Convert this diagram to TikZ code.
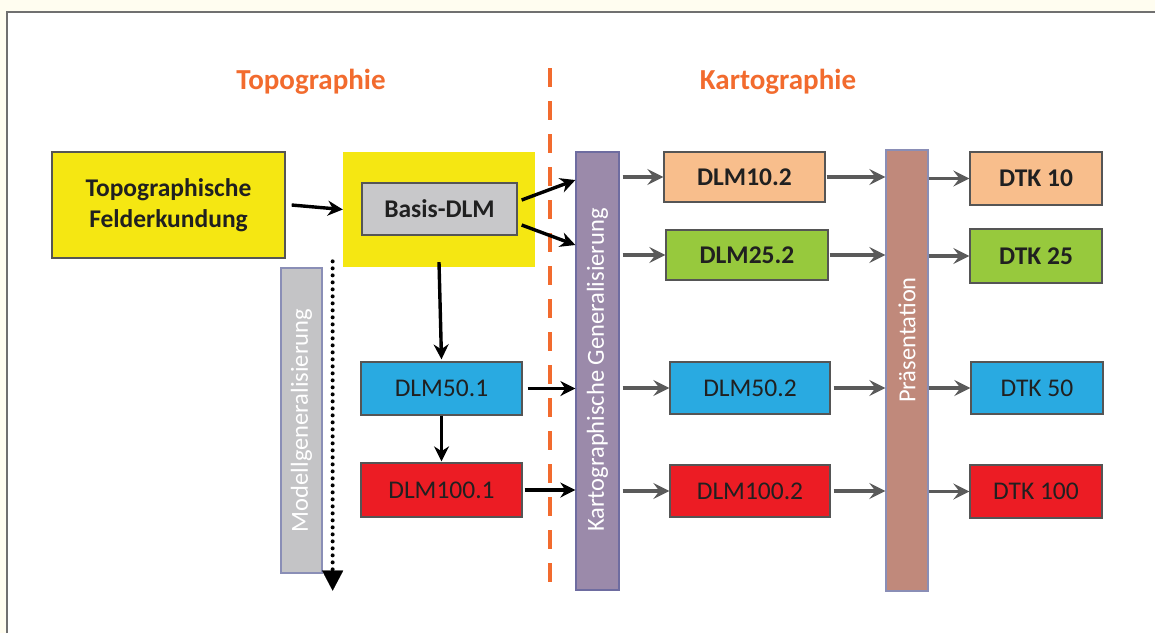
\documentclass[tikz,border=0pt]{standalone}
\usepackage{fontspec}
\setmainfont{Carlito}
\usetikzlibrary{arrows.meta,calc}
\definecolor{cream}{HTML}{FFFDF0}
\definecolor{framec}{HTML}{707070}
\definecolor{yel}{HTML}{F5E712}
\definecolor{boxgray}{HTML}{C8C8CA}
\definecolor{bargray}{HTML}{C4C4C6}
\definecolor{barborder}{HTML}{8A8EB6}
\definecolor{purp}{HTML}{9B8AAA}
\definecolor{purpb}{HTML}{6E6CA0}
\definecolor{brn}{HTML}{C0897B}
\definecolor{peach}{HTML}{F8BE8C}
\definecolor{grn}{HTML}{97C93D}
\definecolor{blu}{HTML}{29AAE1}
\definecolor{rd}{HTML}{EC1C24}
\definecolor{orng}{HTML}{F26B2E}
\definecolor{boxborder}{HTML}{555555}
\definecolor{txt}{HTML}{202020}
\definecolor{garr}{HTML}{5A5A5A}
\tikzset{
  box/.style={draw=boxborder, line width=1.3pt, text=txt, inner sep=0pt, align=center,
    font=\fontsize{25.5}{31}\selectfont},
  bbox/.style={box, font=\fontsize{25.5}{31}\selectfont\bfseries},
  bar/.style={draw=barborder, line width=1.3pt, inner sep=0pt},
  bartext/.style={text=white, font=\fontsize{24.5}{28}\selectfont, rotate=90},
  barr/.style={line width=3.4pt, -{Stealth[length=15pt,width=15pt]}, black},
  garrow/.style={line width=3.6pt, garr, -{Stealth[length=16pt,width=16pt,inset=6pt]}},
  titletext/.style={text=orng, font=\fontsize{29}{32}\selectfont\bfseries},
}
\begin{document}
\begin{tikzpicture}[x=1pt,y=-1pt]
\useasboundingbox (0,0) rectangle (1155,633);
\fill[cream] (0,0) rectangle (1155,633);
\fill[white] (7,12) rectangle (1155,633);
\draw[framec, line width=1.5pt] (7,633) -- (7,12) -- (1155,12);

% titles
\node[titletext] (topo) at (311,82) {Topographie};
\node[titletext] (karto) at (778,82) {Kartographie};

% dashed separator
\coordinate (dtop) at (550,68);
\coordinate (dbot) at (550,595);
\draw[orng, line width=3.5pt, dash pattern=on 19pt off 14pt] (dtop) -- (dbot);

% left part
\node[bbox, fill=yel, minimum width=233pt, minimum height=106pt] (tf) at (168.5,205) {Topographische\\Felderkundung};
\node[fill=yel, minimum width=192pt, minimum height=115pt, inner sep=0pt] (ybg) at (439,209.5) {};
\node[bbox, fill=boxgray, minimum width=155pt, minimum height=52pt] (basis) at (439.5,209) {Basis-DLM};
\node[bar, fill=bargray, minimum width=41pt, minimum height=305pt] (modell) at (301.5,420.5) {};
\node[bartext] (modellt) at (modell) {Modellgeneralisierung};
\node[box, fill=blu, minimum width=161pt, minimum height=53pt] (dlm501) at (441.5,388.5) {DLM50.1};
\node[box, fill=rd, minimum width=161pt, minimum height=54pt] (dlm1001) at (441.5,490) {DLM100.1};

% bars
\node[bar, draw=purpb, fill=purp, minimum width=43pt, minimum height=438pt] (kg) at (597.5,371) {};
\node[bartext] (kgt) at (597.5,370) {Kartographische Generalisierung};
\node[bar, fill=brn, minimum width=42pt, minimum height=441pt] (pr) at (907,370.5) {};
\node[bartext] (prt) at (907,340) {Präsentation};

% middle column
\node[bbox, fill=peach, minimum width=161pt, minimum height=50pt] (dlm102) at (744.5,177) {DLM10.2};
\node[bbox, fill=grn, minimum width=162pt, minimum height=50pt] (dlm252) at (747,255) {DLM25.2};
\node[box, fill=blu, minimum width=160pt, minimum height=52pt] (dlm502) at (750,388) {DLM50.2};
\node[box, fill=rd, minimum width=160pt, minimum height=52pt] (dlm1002) at (750,491) {DLM100.2};

% right column
\node[bbox, fill=peach, minimum width=132pt, minimum height=53pt] (dtk10) at (1036,178.5) {DTK 10};
\node[bbox, fill=grn, minimum width=132pt, minimum height=54pt] (dtk25) at (1036,256) {DTK 25};
\node[box, fill=blu, minimum width=132pt, minimum height=52pt] (dtk50) at (1037,388) {DTK 50};
\node[box, fill=rd, minimum width=132pt, minimum height=53pt] (dtk100) at (1036,491.5) {DTK 100};

% black arrows
\draw[barr] ([xshift=6pt]tf.east) -- (ybg.west);
\draw[barr] ([yshift=5pt]ybg.south) -- ([yshift=2pt]dlm501.north);
\draw[barr] (dlm501.south) -- ([yshift=1pt]dlm1001.north);
\draw[barr] ([xshift=5pt]dlm501.east) -- (kg.west |- dlm501.east);
\draw[barr] ([xshift=2pt]dlm1001.east) -- (kg.west |- dlm1001.east);
\draw[barr] ([xshift=4pt,yshift=9pt]basis.east) -- ([yshift=191pt]kg.west);
\draw[barr] ([xshift=4pt,yshift=-16pt]basis.east) -- ([yshift=126pt]kg.west);

% dotted arrow
\coordinate (dots) at ([xshift=10pt,yshift=6pt]modell.north east);
\coordinate (dote) at ([xshift=10pt,yshift=-17pt]modell.south east);
\draw[black, line width=4pt, line cap=round, dash pattern=on 0pt off 7pt] (dots) -- ([yshift=18pt]dote);
\draw[black, line width=0.1pt, -{Triangle[length=20pt,width=21pt]}] ([yshift=19pt]dote) -- (dote);

% gray arrows
\draw[garrow] ([xshift=3pt]kg.east |- dlm102.west) -- (dlm102.west);
\draw[garrow] ([xshift=3pt]kg.east |- dlm252.west) -- (dlm252.west);
\draw[garrow] ([xshift=3pt]kg.east |- dlm502.west) -- (dlm502.west);
\draw[garrow] ([xshift=3pt]kg.east |- dlm1002.west) -- (dlm1002.west);
\draw[garrow] ([xshift=1pt]dlm102.east) -- (pr.west |- dlm102.east);
\draw[garrow] ([xshift=1pt]dlm252.east) -- (pr.west |- dlm252.east);
\draw[garrow] ([xshift=3pt]dlm502.east) -- (pr.west |- dlm502.east);
\draw[garrow] ([xshift=3pt]dlm1002.east) -- (pr.west |- dlm1002.east);
\draw[garrow] (pr.east |- dtk10.west) -- (dtk10.west);
\draw[garrow] (pr.east |- dtk25.west) -- (dtk25.west);
\draw[garrow] (pr.east |- dtk50.west) -- (dtk50.west);
\draw[garrow] (pr.east |- dtk100.west) -- (dtk100.west);
\end{tikzpicture}
\end{document}
